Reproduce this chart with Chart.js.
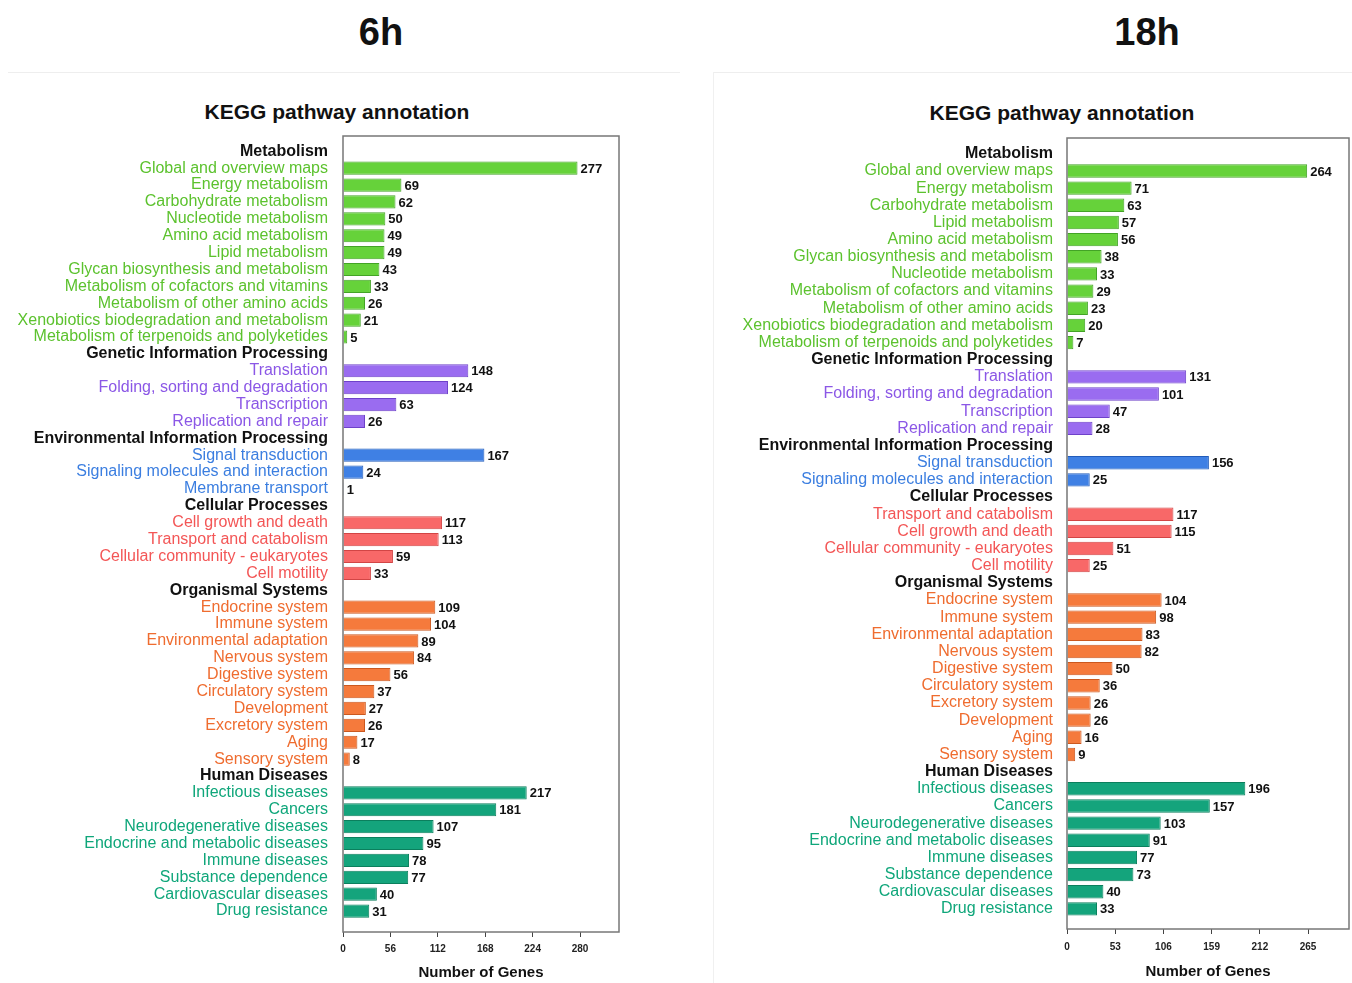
<!DOCTYPE html>
<html>
<head>
<meta charset="utf-8">
<script src="https://cdn.jsdelivr.net/npm/chart.js@4"></script>
<style>
  body { margin: 0; background: #fff; width: 1352px; height: 983px; position: relative; overflow: hidden; }
  .big { position: absolute; font: bold 38px "Liberation Sans", Arial, sans-serif; text-align: center; line-height: 38px; color: #111; }
  .kegg { position: absolute; font: bold 21px "Liberation Sans", Arial, sans-serif; text-align: center; line-height: 26px; color: #111; }
  .hline { position: absolute; height: 1px; background: #eeeeee; }
  .vline { position: absolute; width: 1px; background: #f0f0f0; }
  canvas { position: absolute; }
</style>
</head>
<body>
<div class="big" style="left:281px;top:13px;width:200px">6h</div>
<div class="big" style="left:1047px;top:13px;width:200px">18h</div>
<div class="hline" style="left:8px;top:72px;width:672px"></div>
<div class="hline" style="left:714px;top:72px;width:638px"></div>
<div class="vline" style="left:713px;top:72px;height:911px"></div>
<div class="kegg" style="left:137px;top:99px;width:400px">KEGG pathway annotation</div>
<div class="kegg" style="left:862px;top:100px;width:400px">KEGG pathway annotation</div>
<canvas id="c6" width="690" height="860" style="left:0;top:130px"></canvas>
<canvas id="c18" width="652" height="860" style="left:700px;top:130px"></canvas>
<script>
// group headers have null as value
const labels6h = [
  'Metabolism',
  'Global and overview maps', 'Energy metabolism', 'Carbohydrate metabolism', 'Nucleotide metabolism',
  'Amino acid metabolism', 'Lipid metabolism', 'Glycan biosynthesis and metabolism',
  'Metabolism of cofactors and vitamins', 'Metabolism of other amino acids',
  'Xenobiotics biodegradation and metabolism', 'Metabolism of terpenoids and polyketides',
  'Genetic Information Processing',
  'Translation', 'Folding, sorting and degradation', 'Transcription', 'Replication and repair',
  'Environmental Information Processing',
  'Signal transduction', 'Signaling molecules and interaction', 'Membrane transport',
  'Cellular Processes',
  'Cell growth and death', 'Transport and catabolism', 'Cellular community - eukaryotes', 'Cell motility',
  'Organismal Systems',
  'Endocrine system', 'Immune system', 'Environmental adaptation', 'Nervous system', 'Digestive system',
  'Circulatory system', 'Development', 'Excretory system', 'Aging', 'Sensory system',
  'Human Diseases',
  'Infectious diseases', 'Cancers', 'Neurodegenerative diseases', 'Endocrine and metabolic diseases',
  'Immune diseases', 'Substance dependence', 'Cardiovascular diseases', 'Drug resistance'
];
const genes6h = [
  null, 277, 69, 62, 50, 49, 49, 43, 33, 26, 21, 5,
  null, 148, 124, 63, 26,
  null, 167, 24, 1,
  null, 117, 113, 59, 33,
  null, 109, 104, 89, 84, 56, 37, 27, 26, 17, 8,
  null, 217, 181, 107, 95, 78, 77, 40, 31
];

const labels18h = [
  'Metabolism',
  'Global and overview maps', 'Energy metabolism', 'Carbohydrate metabolism', 'Lipid metabolism',
  'Amino acid metabolism', 'Glycan biosynthesis and metabolism', 'Nucleotide metabolism',
  'Metabolism of cofactors and vitamins', 'Metabolism of other amino acids',
  'Xenobiotics biodegradation and metabolism', 'Metabolism of terpenoids and polyketides',
  'Genetic Information Processing',
  'Translation', 'Folding, sorting and degradation', 'Transcription', 'Replication and repair',
  'Environmental Information Processing',
  'Signal transduction', 'Signaling molecules and interaction',
  'Cellular Processes',
  'Transport and catabolism', 'Cell growth and death', 'Cellular community - eukaryotes', 'Cell motility',
  'Organismal Systems',
  'Endocrine system', 'Immune system', 'Environmental adaptation', 'Nervous system', 'Digestive system',
  'Circulatory system', 'Excretory system', 'Development', 'Aging', 'Sensory system',
  'Human Diseases',
  'Infectious diseases', 'Cancers', 'Neurodegenerative diseases', 'Endocrine and metabolic diseases',
  'Immune diseases', 'Substance dependence', 'Cardiovascular diseases', 'Drug resistance'
];
const genes18h = [
  null, 264, 71, 63, 57, 56, 38, 33, 29, 23, 20, 7,
  null, 131, 101, 47, 28,
  null, 156, 25,
  null, 117, 115, 51, 25,
  null, 104, 98, 83, 82, 50, 36, 26, 26, 16, 9,
  null, 196, 157, 103, 91, 77, 73, 40, 33
];

const ticks6h = [0, 56, 112, 168, 224, 280];
const ticks18h = [0, 53, 106, 159, 212, 265];

// one colour set per group, same order in both panels
const barFill   = ['#66d23a', '#9a6cf0', '#3f80e4', '#f86868', '#f57a3c', '#14a47c'];
const barEdge   = ['#43a326', '#6e42c9', '#225cba', '#d24545', '#cb581f', '#0b7f5d'];
const textColor = ['#5cc22e', '#8b57e6', '#3b7ee0', '#f35656', '#ef6c2f', '#0fa67a'];

const FONT = '"Liberation Sans", Arial, sans-serif';
Chart.defaults.font.family = FONT;

function groupIndex(values) {
  let g = -1;
  return values.map(v => { if (v === null) g++; return g; });
}

const boxAndValues = {
  id: 'boxAndValues',
  afterDatasetsDraw(chart) {
    const ctx = chart.ctx, a = chart.chartArea;
    ctx.save();
    ctx.strokeStyle = '#777';
    ctx.lineWidth = 1.5;
    ctx.strokeRect(a.left, a.top, a.right - a.left, a.bottom - a.top);
    ctx.font = 'bold 13px ' + FONT;
    ctx.fillStyle = '#111';
    ctx.textBaseline = 'middle';
    const pts = chart.data.datasets[0].data;
    chart.getDatasetMeta(0).data.forEach((bar, i) => {
      ctx.fillText(pts[i].x, bar.x + 3, bar.y + 1);
    });
    ctx.restore();
  }
};

function makeChart(id, labels, values, xTicks, o) {
  const groups = groupIndex(values);
  const pts = [];
  values.forEach((v, i) => { if (v !== null) pts.push({ x: v, y: i }); });
  const fills = pts.map(p => barFill[groups[p.y]]);
  const edges = pts.map(p => barEdge[groups[p.y]]);

  return new Chart(document.getElementById(id), {
    type: 'bar',
    data: {
      datasets: [{
        data: pts,
        backgroundColor: fills,
        borderColor: edges,
        borderWidth: 1,
        barPercentage: 0.78,
        categoryPercentage: 1
      }]
    },
    options: {
      indexAxis: 'y',
      responsive: false,
      animation: false,
      devicePixelRatio: 1,
      layout: { padding: { top: o.padTop, right: o.padRight, bottom: 0, left: 0 } },
      plugins: { legend: { display: false }, tooltip: { enabled: false }, title: { display: false } },
      scales: {
        y: {
          type: 'linear',
          reverse: true,
          offset: false,
          min: o.yMin,
          max: o.yMax,
          grid: { display: false, drawTicks: false },
          border: { display: false },
          afterBuildTicks: s => { s.ticks = labels.map((_, i) => ({ value: i })); },
          afterFit: s => { s.width = o.axisWidth; s.paddingTop = 0; s.paddingBottom = 0; },
          ticks: {
            autoSkip: false,
            padding: o.labelPad,
            callback: v => labels[v],
            color: c => values[c.index] === null ? '#111' : textColor[groups[c.index]],
            font: c => values[c.index] === null
              ? { size: 16, weight: 'bold', family: FONT }
              : { size: 16, weight: 'normal', family: FONT }
          }
        },
        x: {
          type: 'linear',
          min: 0,
          max: o.xMax,
          grid: { display: true, drawOnChartArea: false, drawTicks: true, tickLength: 5, color: '#444' },
          border: { display: false },
          afterBuildTicks: s => { s.ticks = xTicks.map(v => ({ value: v })); },
          afterFit: s => { s.height = o.xHeight; s.paddingLeft = 0; s.paddingRight = 0; },
          ticks: { color: '#222', padding: o.tickPad, font: { size: 10, weight: 'bold' } },
          title: {
            display: true,
            text: 'Number of Genes',
            color: '#111',
            font: { size: 15, weight: 'bold' },
            padding: { top: 0, bottom: o.titlePad }
          }
        }
      }
    },
    plugins: [boxAndValues]
  });
}

makeChart('c6', labels6h, genes6h, ticks6h, {
  padTop: 6, padRight: 71, axisWidth: 343, labelPad: 15,
  yMin: -0.906, yMax: 46.24, xMax: 326, xHeight: 58, tickPad: 6, titlePad: 8
});
makeChart('c18', labels18h, genes18h, ticks18h, {
  padTop: 8, padRight: 3, axisWidth: 367, labelPad: 14,
  yMin: -0.92, yMax: 45.17, xMax: 310, xHeight: 61, tickPad: 7, titlePad: 9
});
</script>
</body>
</html>
